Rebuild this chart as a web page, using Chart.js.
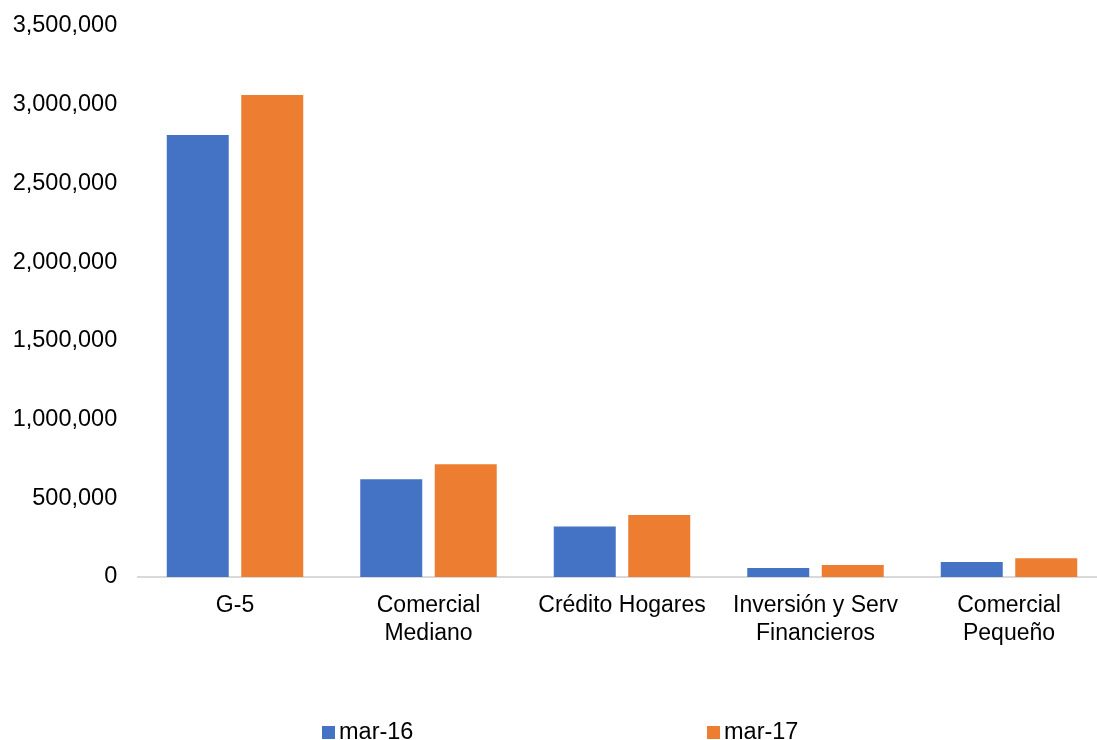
<!DOCTYPE html>
<html>
<head>
<meta charset="utf-8">
<script src="https://cdn.jsdelivr.net/npm/chart.js@4"></script>
<style>
  html, body { margin: 0; padding: 0; background: #fff; }
  #wrap { position: relative; width: 1097px; height: 740px; overflow: hidden; }
  canvas { position: absolute; left: 0; top: 0; }
  .lg { position: absolute; font-family: "Liberation Sans", Arial, sans-serif; font-size: 23.5px; color: #000; line-height: 23px; white-space: nowrap; }
  .bx { position: absolute; width: 13px; height: 13px; }
</style>
</head>
<body>
<div id="wrap">
  <canvas id="c" width="1120" height="740"></canvas>
  <div class="bx" style="left:322px;top:726px;background:#4472C4"></div>
  <div class="lg" id="l1" style="left:339px;top:720px"></div>
  <div class="bx" style="left:707px;top:726px;background:#ED7D31"></div>
  <div class="lg" id="l2" style="left:724px;top:720px"></div>
</div>
<script>
const categories = [["G-5"], ["Comercial", "Mediano"], ["Crédito Hogares"], ["Inversión y Serv", "Financieros"], ["Comercial", "Pequeño"]];
const seriesNames = ["mar-16", "mar-17"];
const mar16 = [2808000, 621000, 320000, 57000, 95000];
const mar17 = [3062000, 716000, 394000, 76000, 119000];
const colors = ["#4472C4", "#ED7D31"];
const yTicks = [0, 500000, 1000000, 1500000, 2000000, 2500000, 3000000, 3500000];

document.getElementById('l1').textContent = seriesNames[0];
document.getElementById('l2').textContent = seriesNames[1];

const font = "'Liberation Sans', Arial, sans-serif";
new Chart(document.getElementById('c'), {
  type: 'bar',
  data: {
    labels: categories,
    datasets: [
      { label: seriesNames[0], data: mar16, backgroundColor: colors[0], categoryPercentage: 0.77, barPercentage: 0.832 },
      { label: seriesNames[1], data: mar17, backgroundColor: colors[1], categoryPercentage: 0.77, barPercentage: 0.832 }
    ]
  },
  options: {
    responsive: false,
    animation: false,
    layout: { padding: { top: 26, right: 14.25, bottom: 0, left: 0 } },
    plugins: { legend: { display: false }, tooltip: { enabled: false } },
    scales: {
      y: {
        min: 0, max: 3500000,
        afterBuildTicks: s => { s.ticks = yTicks.map(v => ({ value: v })); },
        afterFit: s => { s.width = 138.25; s.paddingTop = 0; s.paddingBottom = 0; },
        grid: { display: false, drawTicks: false },
        border: { display: false },
        ticks: {
          padding: 21, color: '#000',
          font: { family: font, size: 23.5 },
          callback: v => v.toLocaleString('en-US')
        }
      },
      x: {
        afterFit: s => { s.height = 163; },
        grid: { display: false, drawTicks: false },
        border: { display: true, color: '#d9d9d9', width: 2 },
        ticks: {
          padding: 15, color: '#000', maxRotation: 0, autoSkip: false,
          font: { family: font, size: 23, lineHeight: '28px' }
        }
      }
    }
  }
});
</script>
</body>
</html>
